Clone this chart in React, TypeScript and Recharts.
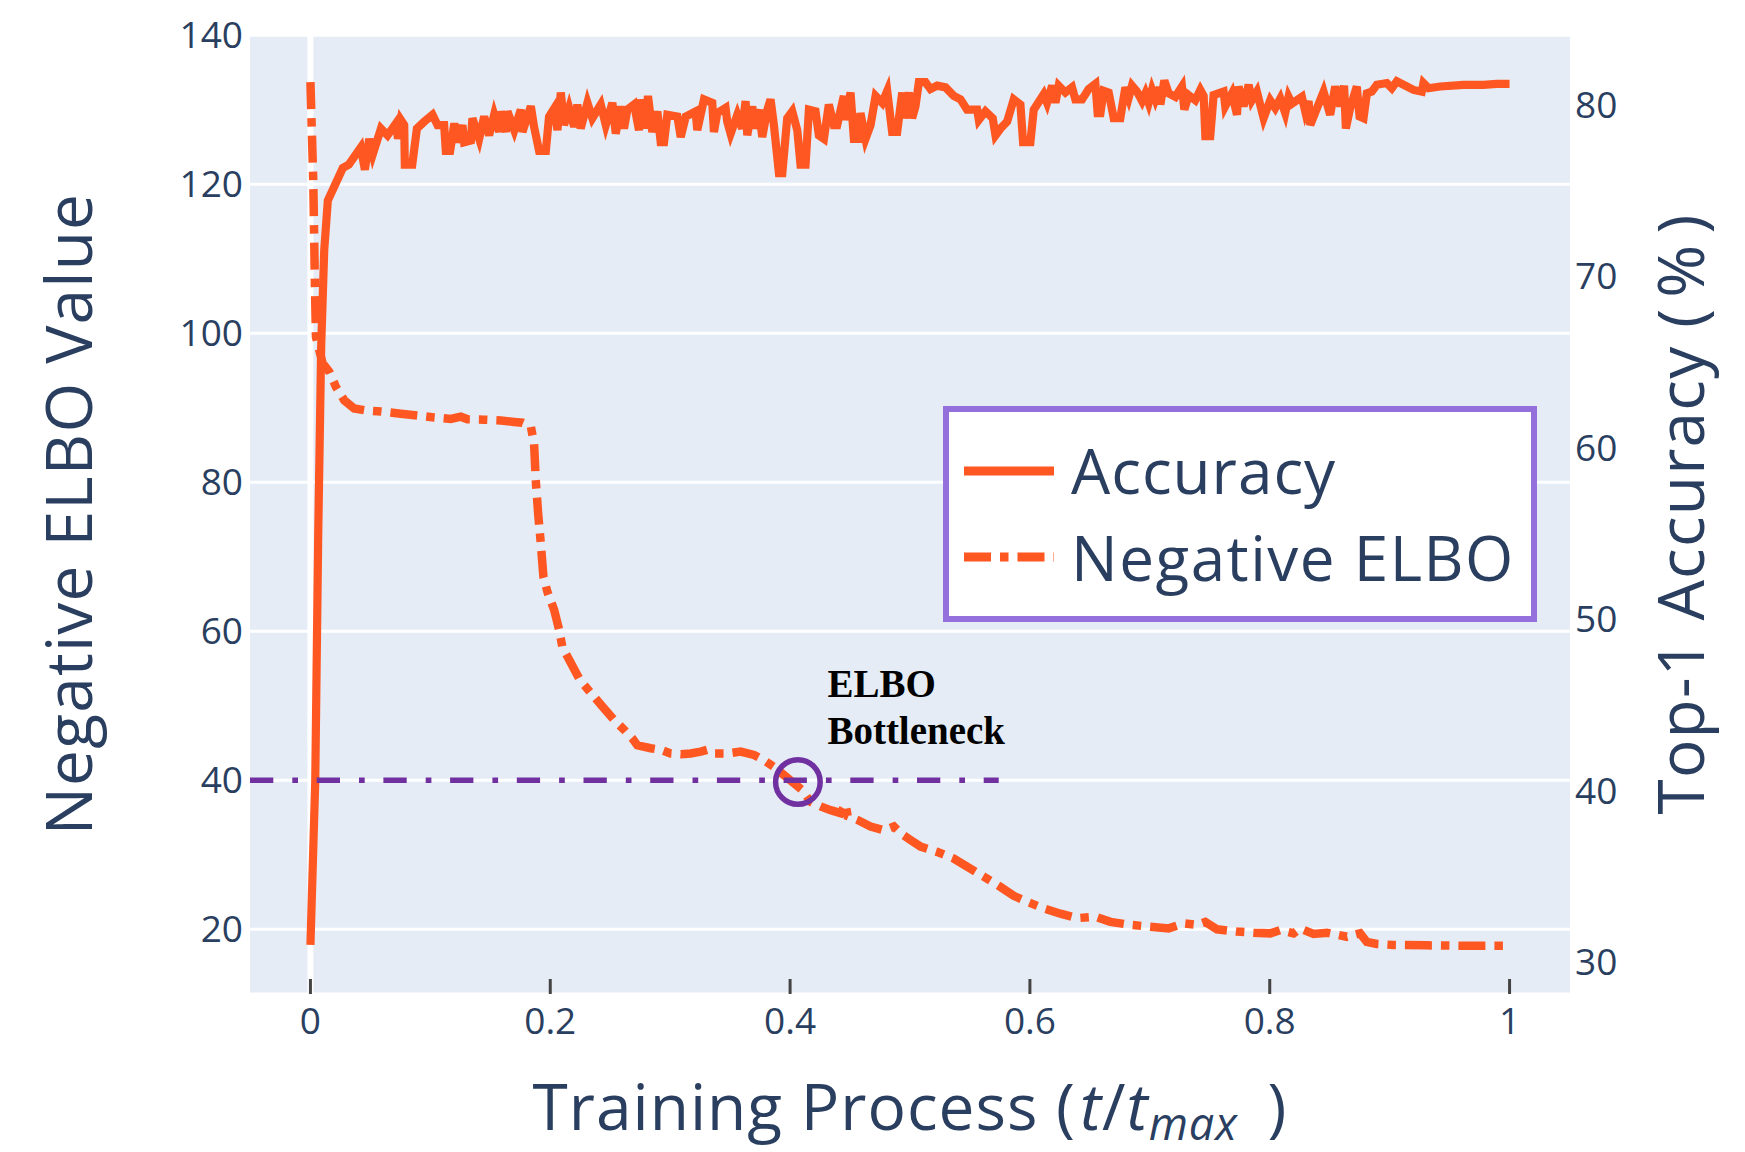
import {
  LineChart, Line, XAxis, YAxis, CartesianGrid,
  ReferenceLine, ReferenceDot, Label,
} from 'recharts'

// Top-1 accuracy (%) over the normalised training process t/t_max
const accuracyPoints: [number, number][] = [
  [0, 31.0], [0.004, 40.5], [0.0065, 55], [0.009, 66], [0.0115, 71.5], [0.0145, 74.4],
  [0.027, 76.3], [0.032, 76.5], [0.042, 77.5], [0.0454, 76.2], [0.049, 78.0], [0.052, 77.1],
  [0.0588, 78.6], [0.0643, 78.2], [0.0713, 78.9], [0.073, 78.0], [0.0754, 79.1], [0.0782, 78.8],
  [0.0787, 76.5], [0.0849, 76.5], [0.0888, 78.6], [0.0949, 79.0], [0.1018, 79.4], [0.106, 78.8],
  [0.1115, 78.8], [0.1129, 77.3], [0.1165, 77.3], [0.12, 78.9], [0.1226, 77.8], [0.1268, 78.8],
  [0.1282, 77.8], [0.1338, 77.9], [0.1351, 79.2], [0.1407, 78.0], [0.1449, 79.3], [0.149, 78.2],
  [0.1532, 79.4], [0.1574, 78.4], [0.1588, 79.6], [0.163, 78.4], [0.1643, 79.6], [0.17, 78.5],
  [0.1754, 79.7], [0.1768, 78.4], [0.1838, 79.9], [0.1865, 78.7], [0.1907, 77.3], [0.1963, 77.3],
  [0.199, 79.3], [0.2035, 79.8], [0.206, 78.5], [0.2088, 80.7], [0.2115, 78.8], [0.2157, 79.8],
  [0.2199, 78.7], [0.2226, 80.0], [0.2254, 78.6], [0.231, 80.1], [0.2351, 79.2], [0.2421, 80.0],
  [0.2463, 78.8], [0.2518, 80.1], [0.2546, 78.3], [0.2588, 79.9], [0.2615, 78.6], [0.2643, 79.7],
  [0.2699, 80.0], [0.274, 78.5], [0.2754, 80.3], [0.2785, 78.6], [0.2815, 80.5], [0.2851, 78.4],
  [0.2893, 79.6], [0.2921, 77.8], [0.2949, 77.8], [0.2976, 79.4], [0.306, 79.3], [0.3088, 78.1],
  [0.313, 79.3], [0.3212, 79.6], [0.3226, 78.5], [0.3282, 80.3], [0.3351, 80.1], [0.3365, 78.4],
  [0.3393, 79.5], [0.3462, 79.8], [0.3476, 79.0], [0.3504, 78.3], [0.356, 79.4], [0.3601, 78.6],
  [0.3629, 80.2], [0.3643, 78.2], [0.3685, 79.9], [0.3698, 78.6], [0.374, 79.7], [0.3768, 78.1],
  [0.381, 79.7], [0.3837, 80.3], [0.3865, 78.8], [0.3907, 76.0], [0.3935, 76.0], [0.3976, 79.2],
  [0.4018, 79.6], [0.406, 78.5], [0.4087, 76.5], [0.4129, 76.5], [0.4157, 79.7], [0.4212, 79.6],
  [0.424, 78.2], [0.4282, 78.0], [0.4323, 80.0], [0.4365, 78.8], [0.4393, 78.8], [0.4448, 80.5],
  [0.4462, 79.1], [0.4504, 80.7], [0.4532, 78.0], [0.4573, 78.0], [0.4587, 79.5], [0.4629, 78.0],
  [0.4671, 78.8], [0.4713, 80.5], [0.4768, 80.1], [0.481, 80.8], [0.4851, 78.4], [0.4893, 78.4],
  [0.4935, 80.7], [0.4949, 79.2], [0.499, 80.7], [0.5018, 79.2], [0.5046, 79.9], [0.5074, 81.3],
  [0.5129, 81.3], [0.5171, 80.9], [0.5226, 81.1], [0.5296, 81.0], [0.5365, 80.5], [0.5421, 80.3],
  [0.5476, 79.7], [0.5518, 79.7], [0.556, 79.7], [0.5574, 79.1], [0.5629, 79.6], [0.569, 79.2],
  [0.5713, 78.2], [0.5755, 78.6], [0.581, 79.0], [0.5865, 80.3], [0.5921, 80.0], [0.5943, 77.8],
  [0.6004, 77.8], [0.6032, 79.7], [0.6115, 80.6], [0.6143, 80.1], [0.6185, 81.1], [0.6213, 80.1],
  [0.624, 81.1], [0.6296, 80.7], [0.6351, 81.0], [0.6379, 80.3], [0.6435, 80.3], [0.649, 80.9],
  [0.6546, 81.2], [0.6565, 79.5], [0.6588, 79.5], [0.6615, 80.8], [0.6657, 80.7], [0.6699, 79.2],
  [0.6754, 79.2], [0.6796, 81.0], [0.6824, 80.4], [0.6851, 81.1], [0.6893, 80.75], [0.6935, 80.2],
  [0.6963, 80.65], [0.699, 80.1], [0.7018, 80.85], [0.7046, 80.3], [0.7082, 81.0], [0.7088, 80.0],
  [0.7121, 81.4], [0.7157, 80.65], [0.7213, 80.45], [0.7268, 81.05], [0.7288, 79.7], [0.7324, 80.55],
  [0.7379, 80.25], [0.7421, 80.85], [0.7449, 80.5], [0.7463, 78.15], [0.7504, 78.15], [0.7532, 80.55],
  [0.7615, 80.75], [0.7629, 79.9], [0.7685, 80.65], [0.7727, 79.4], [0.774, 81.05], [0.7782, 79.9],
  [0.7824, 81.15], [0.7851, 80.25], [0.7893, 80.75], [0.7949, 79.2], [0.8004, 80.25], [0.8046, 79.8],
  [0.8088, 80.35], [0.8129, 79.5], [0.8157, 80.45], [0.8185, 80.05], [0.8268, 80.45], [0.8296, 79.6],
  [0.8324, 80.2], [0.8338, 78.8], [0.8449, 80.75], [0.8504, 79.4], [0.8546, 81.05], [0.8588, 79.9],
  [0.862, 81.1], [0.8635, 78.6], [0.8671, 79.8], [0.8726, 81.05], [0.8749, 79.3], [0.8782, 79.2],
  [0.881, 80.65], [0.8851, 80.75], [0.8893, 81.15], [0.8976, 81.25], [0.9018, 80.95], [0.906, 81.35],
  [0.9199, 80.85], [0.9268, 80.75], [0.9282, 81.25], [0.9324, 80.95], [0.9421, 81.05], [0.9615, 81.15],
  [0.9782, 81.15], [0.9893, 81.2], [1.0, 81.2],
]

// Negative ELBO value over the same process
const elboPoints: [number, number][] = [
  [0, 133.7], [0.0024, 120.2], [0.0037, 106.8], [0.0046, 99.5], [0.0101, 96.0], [0.0157, 94.85],
  [0.0213, 92.8], [0.0282, 91.0], [0.0365, 89.9], [0.0476, 89.6], [0.0588, 89.5], [0.0754, 89.2],
  [0.092, 88.9], [0.1032, 88.7], [0.1171, 88.5], [0.1254, 88.8], [0.131, 88.45], [0.1449, 88.4],
  [0.1588, 88.3], [0.1699, 88.1], [0.1768, 88.0], [0.1838, 87.5], [0.1865, 85.2], [0.1879, 80.3],
  [0.1899, 75.8], [0.1921, 71.8], [0.1943, 67.3], [0.1976, 65.3], [0.2032, 62.9], [0.2074, 60.2],
  [0.2101, 57.9], [0.2246, 53.5], [0.2435, 49.9], [0.2532, 48.1], [0.2615, 46.8], [0.2685, 45.6],
  [0.2726, 44.7], [0.2838, 44.3], [0.2921, 44.1], [0.3004, 43.6], [0.3088, 43.5], [0.3171, 43.6],
  [0.3254, 43.85], [0.331, 44.1], [0.3365, 43.6], [0.3476, 43.6], [0.3588, 43.85], [0.3699, 43.4],
  [0.3782, 42.7], [0.3865, 41.8], [0.3949, 40.7], [0.4032, 39.6], [0.4101, 38.7], [0.4171, 37.1],
  [0.4254, 36.5], [0.4338, 36.0], [0.4421, 35.6], [0.4463, 36.8], [0.448, 35.2], [0.456, 34.7],
  [0.4671, 33.8], [0.4782, 33.3], [0.4865, 33.8], [0.4921, 32.9], [0.5004, 32.0], [0.5088, 31.1],
  [0.5226, 30.4], [0.5365, 29.5], [0.5476, 28.4], [0.5615, 27.07], [0.5754, 25.7], [0.5865, 24.5],
  [0.5977, 23.7], [0.6116, 22.8], [0.6255, 22.1], [0.6394, 21.5], [0.6546, 21.7], [0.6671, 21.0],
  [0.6838, 20.6], [0.7005, 20.35], [0.7157, 20.13], [0.7282, 20.8], [0.7393, 20.6], [0.7463, 21.0],
  [0.756, 20.0], [0.7727, 19.7], [0.7866, 19.55], [0.8004, 19.46], [0.8088, 19.9], [0.8199, 19.46],
  [0.8254, 20.1], [0.8366, 19.37], [0.8477, 19.55], [0.8643, 19.0], [0.8754, 19.46], [0.881, 18.3],
  [0.8893, 18.03], [0.9032, 17.9], [0.931, 17.85], [0.9588, 17.8], [1.0, 17.8],
]

const xTicks = [0, 0.2, 0.4, 0.6, 0.8, 1]
const elboTicks = [20, 40, 60, 80, 100, 120, 140]
const accTicks = [30, 40, 50, 60, 70, 80]
const seriesNames = ['Accuracy', 'Negative ELBO']

// bottleneck annotation
const bottleneckLevel = 40
const bottleneckLineEnd = 0.574
const bottleneckPoint = { t: 0.4065, v: 39.77 }
const bottleneckText = ['ELBO', 'Bottleneck']

const accData = accuracyPoints.map(([t, v]) => ({ t, v }))
const elboData = elboPoints.map(([t, v]) => ({ t, v }))

const ORANGE = '#FF5722'
const PURPLE = '#7030A0'
const TEXT = '#2a3f5f'
const FONT = '"Open Sans", Verdana, Arial, sans-serif'
const ELBO_DASH = '27 9 8.5 9'

const tickStyle = { fill: TEXT, fontSize: 37, fontFamily: FONT }

function XTick({ x, y, payload }: any) {
  return (
    <g>
      <line x1={x} x2={x} y1={y - 14 - 15} y2={y - 14} stroke="#444" strokeWidth={3} />
      <text x={x} y={y} dy="0.71em" textAnchor="middle" fill={TEXT} fontSize={37} fontFamily={FONT}>
        {String(payload.value)}
      </text>
    </g>
  )
}

function LegendBox() {
  return (
    <svg width={594} height={216} style={{ display: 'block' }}>
      <rect x={3} y={3} width={588} height={210} fill="#fff" stroke="#9370DB" strokeWidth={6} />
      <line x1={21} x2={111} y1={65} y2={65} stroke={ORANGE} strokeWidth={9} />
      <text x={128} y={88} fill={TEXT} fontSize={62} letterSpacing={1} fontFamily={FONT}>{seriesNames[0]}</text>
      <line x1={21} x2={111} y1={151} y2={151} stroke={ORANGE} strokeWidth={9} strokeDasharray={ELBO_DASH} />
      <text x={128} y={175} fill={TEXT} fontSize={62} letterSpacing={1.5} fontFamily={FONT}>{seriesNames[1]}</text>
    </svg>
  )
}

function BottleneckLabel({ viewBox }: any) {
  const cx = viewBox.x + viewBox.width / 2
  const cy = viewBox.y + viewBox.height / 2
  return (
    <text fontFamily='"Liberation Serif", "Times New Roman", serif' fontWeight="bold" fontSize={39} fill="#000">
      <tspan x={cx + 29.5} y={cy - 84.7}>{bottleneckText[0]}</tspan>
      <tspan x={cx + 29.5} y={cy - 38}>{bottleneckText[1]}</tspan>
    </text>
  )
}

export default function App() {
  return (
    <div style={{ position: 'absolute', left: 0, top: 0, width: 1745, height: 1152, background: '#fff' }}>
      <LineChart width={1745} height={1152} margin={{ top: 33, right: 0, bottom: 0, left: 0 }}>
        <CartesianGrid yAxisId="left" fill="#E5ECF6" stroke="#fff" strokeWidth={3} vertical={false} />
        <XAxis
          dataKey="t" type="number" domain={[-0.0504, 1.0504]} allowDataOverflow
          ticks={xTicks} height={158} axisLine={false} tickLine={false}
          tickSize={0} tickMargin={14} tick={<XTick />}
        >
          <Label
            content={() => (
              <text x={910} y={1130} textAnchor="middle" fill={TEXT} fontSize={64} letterSpacing={1} fontFamily={FONT}>
                Training Process (<tspan fontStyle="italic" dx={4}>t</tspan>/<tspan fontStyle="italic">t</tspan>
                <tspan fontStyle="italic" fontSize={45} dy={10}>max</tspan>
                <tspan dy={-10} dx={12}> )</tspan>
              </text>
            )}
          />
        </XAxis>
        <YAxis
          yAxisId="left" type="number" domain={[11.32, 140.3]} allowDataOverflow
          ticks={elboTicks} width={250} axisLine={false} tickLine={false}
          tickSize={0} tickMargin={7} tick={tickStyle}
        >
          <Label
            content={() => (
              <text transform="translate(91.7, 514) rotate(-90)" textAnchor="middle" fill={TEXT} fontSize={64} letterSpacing={1.2} fontFamily={FONT}>
                Negative ELBO Value
              </text>
            )}
          />
        </YAxis>
        <YAxis
          yAxisId="right" orientation="right" type="number" domain={[28.13, 84.17]} allowDataOverflow
          ticks={accTicks} width={175} axisLine={false} tickLine={false}
          tickSize={0} tickMargin={5} tick={tickStyle}
        >
          <Label
            content={() => (
              <text transform="translate(1704, 514) rotate(-90)" textAnchor="middle" fill={TEXT} fontSize={64} letterSpacing={1.2} fontFamily={FONT}>
                Top-1 Accuracy (<tspan dx={10}>%</tspan><tspan dx={10}>)</tspan>
              </text>
            )}
          />
        </YAxis>
        <ReferenceLine yAxisId="left" x={0} stroke="#fff" strokeWidth={6} />
        <Line
          yAxisId="right" data={accData} dataKey="v" name={seriesNames[0]}
          stroke={ORANGE} strokeWidth={8.2} dot={false} activeDot={false}
          isAnimationActive={false} type="linear"
        />
        <Line
          yAxisId="left" data={elboData} dataKey="v" name={seriesNames[1]}
          stroke={ORANGE} strokeWidth={8.5} strokeDasharray={ELBO_DASH} dot={false} activeDot={false}
          isAnimationActive={false} type="linear"
        />
        <ReferenceLine
          yAxisId="left"
          segment={[{ x: -0.0504, y: bottleneckLevel }, { x: bottleneckLineEnd, y: bottleneckLevel }]}
          stroke={PURPLE} strokeWidth={5.5} strokeDasharray="23.3 19 5.7 18.7"
        />
        <ReferenceDot
          yAxisId="left" x={bottleneckPoint.t} y={bottleneckPoint.v} r={22.3}
          fill="none" stroke={PURPLE} strokeWidth={5.5}
          label={<BottleneckLabel />}
        />
      </LineChart>
      <div style={{ position: 'absolute', left: 943, top: 406 }}>
        <LegendBox />
      </div>
    </div>
  )
}
